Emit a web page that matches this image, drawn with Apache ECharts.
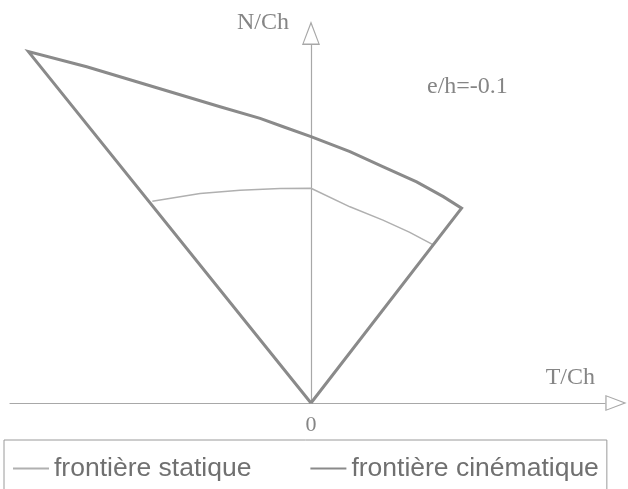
<!DOCTYPE html>
<html>
<head>
<meta charset="utf-8">
<script src="https://cdn.jsdelivr.net/npm/echarts@6/dist/echarts.min.js"></script>
<style>
  html, body { margin: 0; padding: 0; background: #fff; }
  #main { width: 628px; height: 489px; }
</style>
</head>
<body>
<div id="main"></div>
<script>
// frontière cinématique : 0 -> sommet gauche -> courbe -> sommet droit -> 0
var kinT = [0, -0.805, -0.639, -0.449, -0.259, -0.145, -0.079, 0, 0.111, 0.206, 0.301, 0.377, 0.429, 0];
var kinN = [0, 1.001, 0.958, 0.901, 0.844, 0.811, 0.787, 0.759, 0.716, 0.673, 0.630, 0.588, 0.555, 0];

// frontière statique
var statT = [-0.452, -0.316, -0.202, -0.088, 0, 0.111, 0.205, 0.28, 0.35];
var statN = [0.575, 0.597, 0.606, 0.611, 0.612, 0.559, 0.521, 0.487, 0.45];

var seriesNames = ['frontière statique', 'frontière cinématique'];
var ratioLabel = 'e/h=-0.1';

function zip(a, b) {
  var out = [];
  for (var i = 0; i < a.length; i++) out.push([a[i], b[i]]);
  return out;
}

// triangle creux pour les flèches des axes
var arrowPath = 'path://M9,0 L18,24 L0,24 Z M9,3.6 L1.7,22.6 L16.3,22.6 Z';
var serif = 'Liberation Serif';
var axisColor = '#a8a8a8';

var myChart = echarts.init(document.getElementById('main'));
var option = {
  backgroundColor: '#fff',
  animation: false,
  title: {
    text: ratioLabel,
    left: 427,
    top: 75,
    padding: 0,
    textStyle: { fontFamily: serif, fontSize: 24, fontWeight: 'normal', color: '#858585' }
  },
  legend: {
    data: seriesNames,
    left: 4,
    top: 440,
    padding: [15, 8, 12, 8],
    itemWidth: 36,
    itemHeight: 14,
    itemGap: 58,
    itemStyle: { opacity: 0 },
    borderColor: '#9a9a9a',
    borderWidth: 1,
    textStyle: { fontFamily: 'Liberation Sans', fontSize: 26.5, color: '#707070' }
  },
  grid: { left: 10, right: 23, top: 45, bottom: 86 },
  xAxis: {
    type: 'value',
    min: -0.8575,
    max: 0.8376,
    name: 'T/Ch',
    nameLocation: 'end',
    nameGap: 0,
    nameTextStyle: {
      fontFamily: serif, fontSize: 24, color: '#858585',
      align: 'right', verticalAlign: 'bottom', padding: [0, 10, 13, 0]
    },
    splitLine: { show: false },
    axisTick: { show: false },
    axisLine: {
      onZero: false,
      symbol: ['none', arrowPath],
      symbolSize: [16, 22],
      symbolOffset: [0, 11],
      lineStyle: { color: axisColor, width: 1.2 }
    },
    axisLabel: {
      showMinLabel: false,
      showMaxLabel: false,
      margin: 11,
      fontFamily: serif,
      fontSize: 22,
      color: '#858585',
      formatter: function (v) { return v === 0 ? '0' : ''; }
    }
  },
  yAxis: {
    type: 'value',
    min: 0,
    max: 1.02,
    name: 'N/Ch',
    nameLocation: 'end',
    nameGap: 0,
    nameTextStyle: {
      fontFamily: serif, fontSize: 24, color: '#858585',
      align: 'right', verticalAlign: 'bottom', padding: [0, 22, 10, 0]
    },
    splitLine: { show: false },
    axisTick: { show: false },
    axisLabel: { show: false },
    axisLine: {
      onZero: true,
      symbol: ['none', arrowPath],
      symbolSize: [18, 24],
      symbolOffset: [0, 12],
      lineStyle: { color: axisColor, width: 1.2 }
    }
  },
  series: [
    {
      name: seriesNames[0],
      type: 'line',
      data: zip(statT, statN),
      showSymbol: false,
      symbol: 'none',
      color: '#b0b0b0',
      lineStyle: { width: 1.5, color: '#b0b0b0' }
    },
    {
      name: seriesNames[1],
      type: 'line',
      data: zip(kinT, kinN),
      showSymbol: false,
      symbol: 'none',
      color: '#8a8a8a',
      lineStyle: { width: 3, color: '#8a8a8a', join: 'miter' }
    }
  ]
};
option && myChart.setOption(option);
</script>
</body>
</html>
